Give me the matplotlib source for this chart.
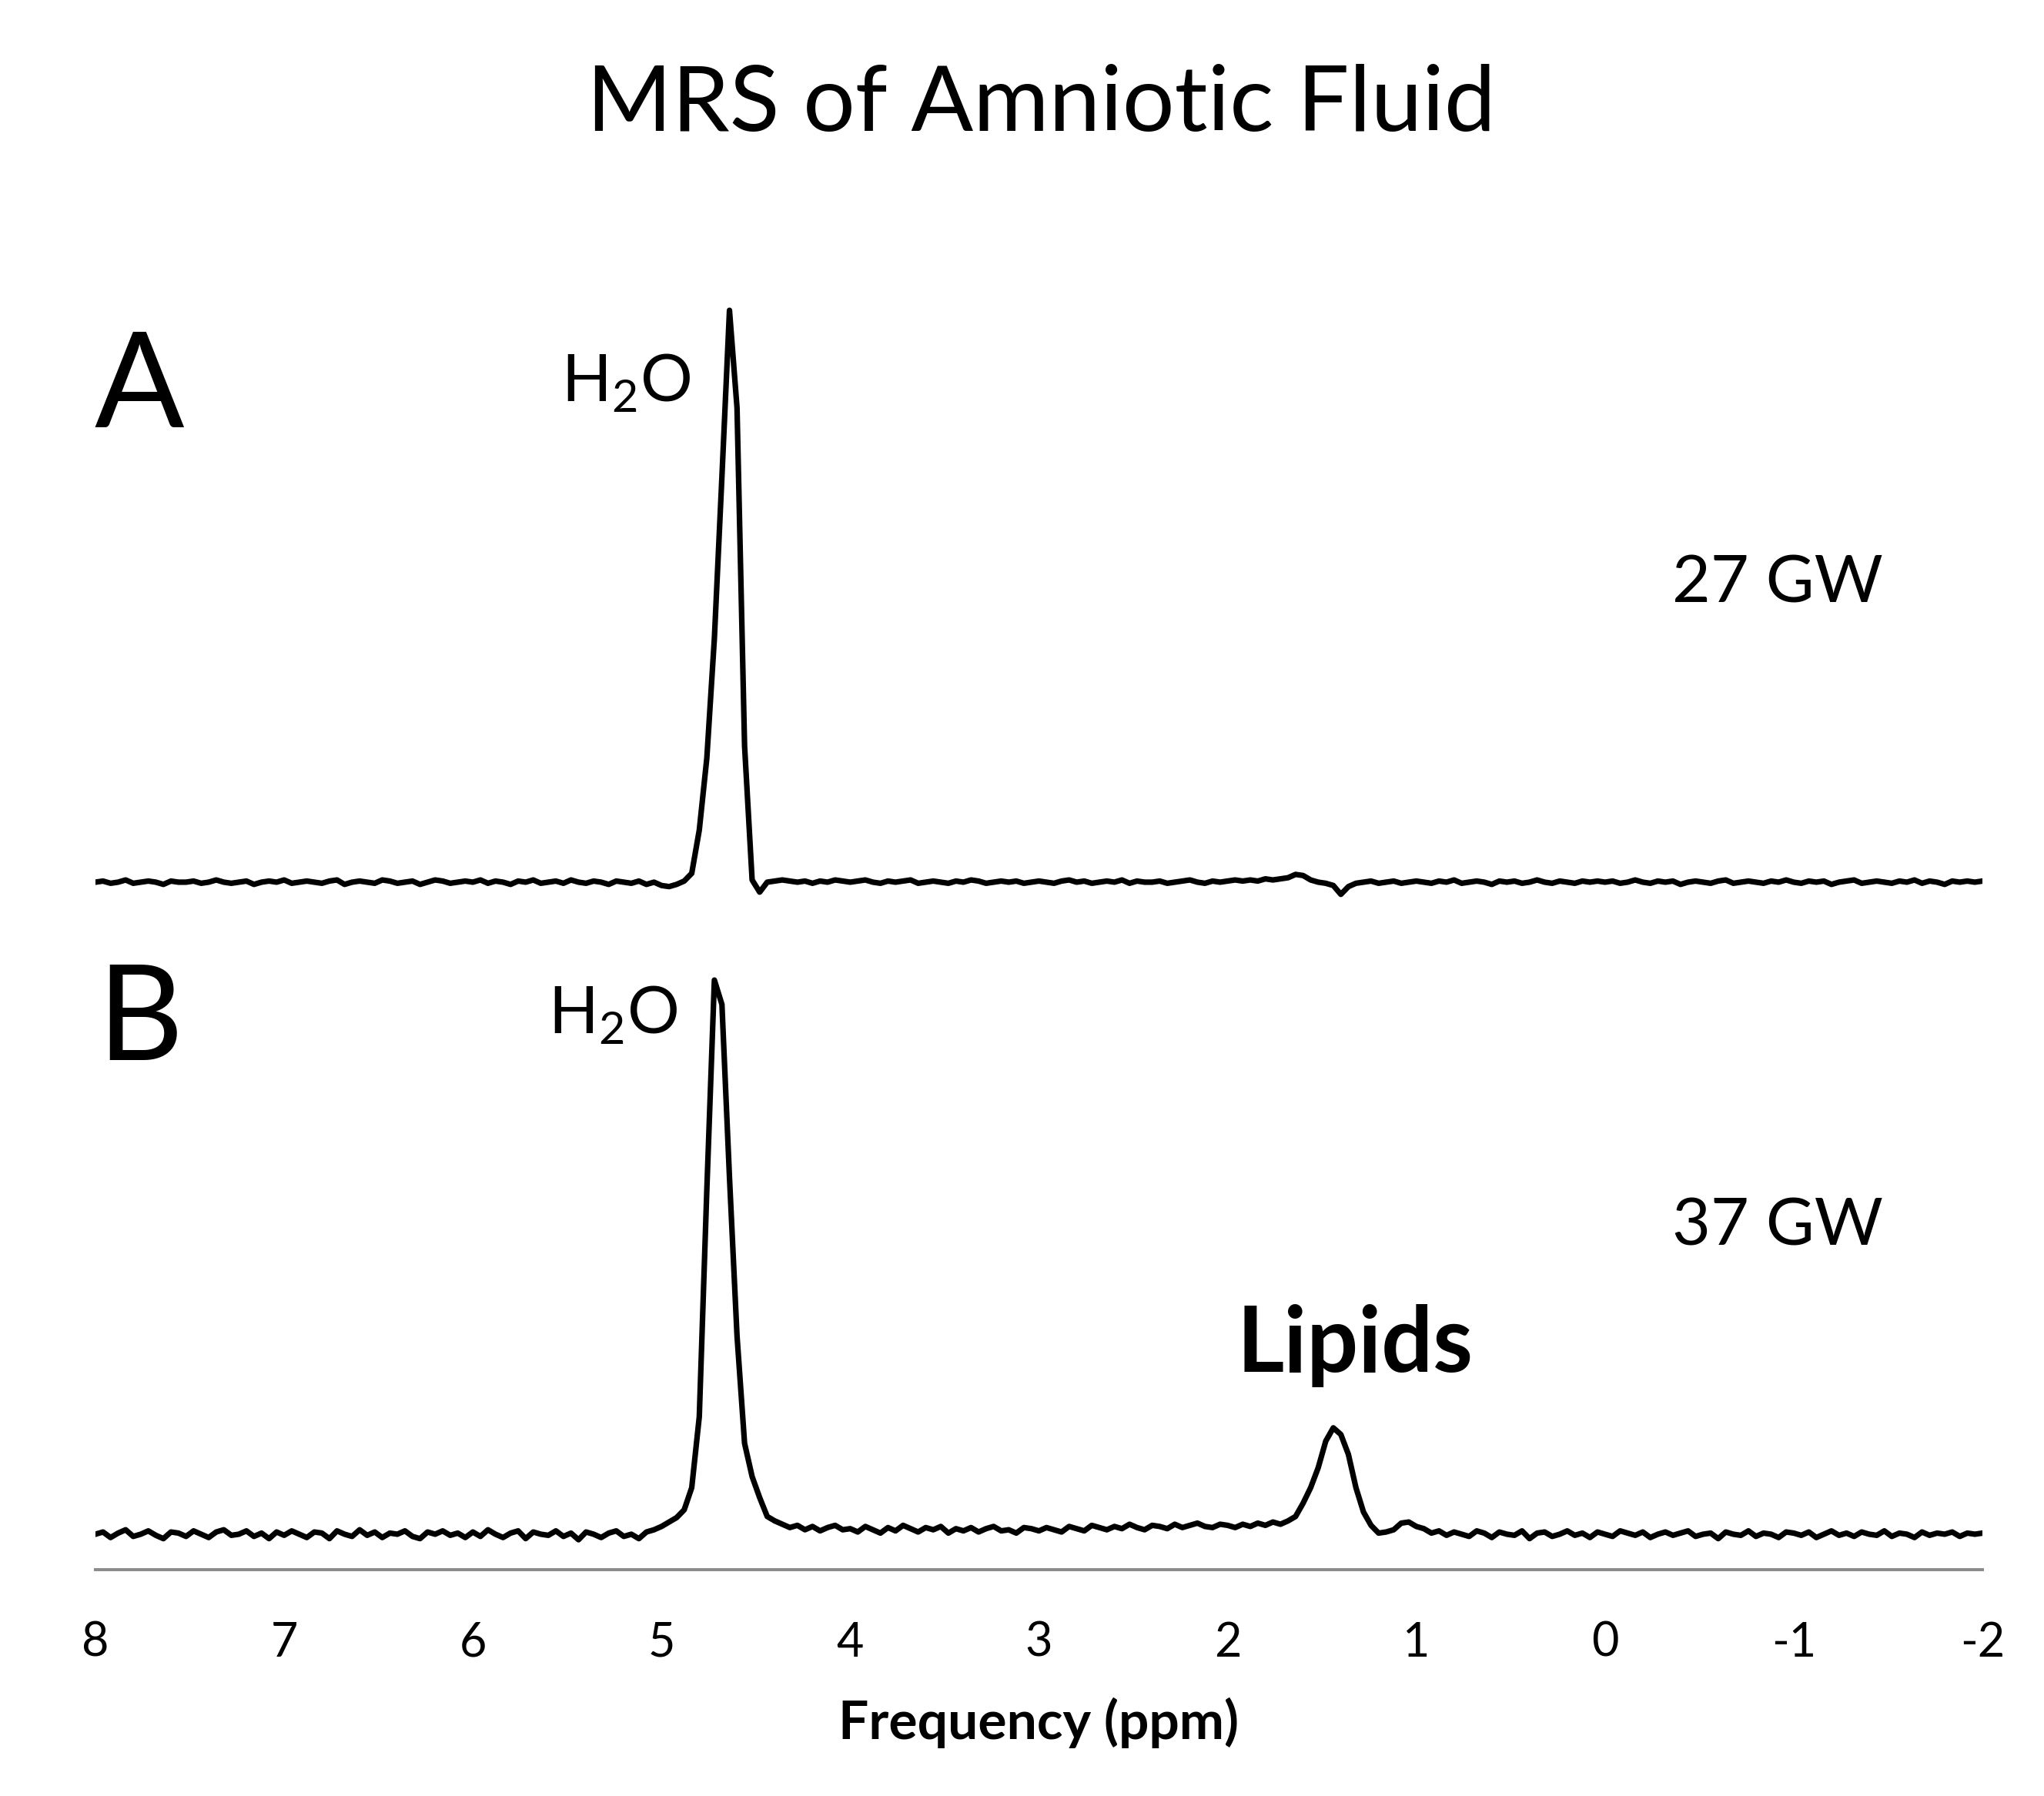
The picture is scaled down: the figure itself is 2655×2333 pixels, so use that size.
import numpy as np
import matplotlib
matplotlib.use("Agg")
import matplotlib.pyplot as plt

plt.rcParams["font.family"] = ["Lato", "DejaVu Sans"]
plt.rcParams["mathtext.fontset"] = "custom"
plt.rcParams["mathtext.rm"] = "Lato"
plt.rcParams["axes.unicode_minus"] = False

# ---------------------------------------------------------------------------
# data: spectra sampled every 0.04 ppm from 8 ppm down to -2 ppm (a.u.)
# ---------------------------------------------------------------------------
PPM_HIGH, PPM_LOW, N_POINTS = 8.0, -2.0, 251

# 27 gestational weeks
spec_27gw = [
    0, 1, -1, 0, 2, -1, 0, 1, 0, -2, 1, 0, 0, 1, -1, 0, 2, 0, -1, 0, 1, -2, 0, 1, 0,          # 8.00 .. 7.04
    2, -1, 0, 1, 0, -1, 1, 2, -2, 0, 1, 0, -1, 2, 1, -1, 0, 1, -2, 0, 2, 1, -1, 0, 1,         # 7.00 .. 6.04
    0, 2, -1, 1, 0, -2, 1, 0, 2, -1, 0, 1, -1, 2, 0, -1, 1, 0, -2, 1, 0, -1, 1, -2, 0,        # 6.00 .. 5.04
    -3, -4, -2, 1, 8, 47, 112, 220, 366, 516, 428, 123, 2, -9, 0, 1, 2, 1, 0, 1, -1, 1, 0, 2, 1,  # 5.00 .. 4.04
    0, 1, 2, 0, -1, 1, 0, 1, 2, -1, 0, 1, 0, -1, 1, 0, 2, 1, -1, 0, 1, 0, 1, -1, 0,           # 4.00 .. 3.04
    1, 0, -1, 1, 2, 0, 1, -1, 0, 1, 0, 2, -1, 1, 0, 0, 1, -1, 0, 1, 2, 0, -1, 1, 0,           # 3.00 .. 2.04
    1, 2, 1, 2, 1, 3, 2, 3, 4, 7, 6, 2, 0, -1, -3, -11, -4, -1, 0, 1, -1, 0, 1, -1, 0,        # 2.00 .. 1.04
    1, 0, -1, 1, 0, 2, -1, 0, 1, 0, -2, 1, 0, 1, -1, 0, 2, 0, -1, 1, 0, -1, 1, 0, 1,          # 1.00 .. 0.04
    0, 1, -1, 0, 2, 0, -1, 1, 0, 1, -2, 0, 1, 0, -1, 1, 2, -1, 0, 1, 0, -1, 1, 0, 2,          # 0.00 .. -0.96
    0, -1, 1, 0, 1, -2, 0, 1, 2, -1, 0, 1, 0, -1, 1, 0, 2, -1, 1, 0, -2, 1, 0, 1, 0,          # -1.00 .. -1.96
    1,                                                                                       # -2.00
]

# 37 gestational weeks
spec_37gw = [
    0, 2, -3, 1, 4, -2, 0, 3, -1, -4, 2, 1, -2, 3, 0, -3, 2, 4, -1, 0, 3, -2, 1, -4, 2,       # 8.00 .. 7.04
    -1, 3, 0, -3, 2, 1, -4, 3, 0, -2, 4, -1, 2, -3, 1, 0, 3, -2, -4, 2, 0, 3, -1, 1, -3,      # 7.00 .. 6.04
    2, -2, 4, 0, -3, 1, 3, -4, 2, 0, -1, 3, -2, 1, -5, 2, 0, -3, 1, 3, -2, 0, -4, 2, 4,       # 6.00 .. 5.04
    7, 11, 15, 22, 42, 106, 311, 500, 478, 322, 179, 82, 52, 33, 16, 12, 9, 6, 8, 4, 7, 3, 6, 8, 4,  # 5.00 .. 4.04
    5, 2, 7, 4, 1, 6, 3, 8, 5, 2, 6, 4, 7, 1, 5, 3, 6, 2, 5, 7, 3, 4, 1, 6, 5,               # 4.00 .. 3.04
    3, 6, 4, 2, 7, 5, 3, 8, 6, 4, 7, 5, 9, 6, 4, 8, 7, 5, 9, 6, 8, 10, 7, 6, 9,              # 3.00 .. 2.04
    8, 6, 9, 7, 10, 8, 11, 9, 12, 16, 28, 42, 60, 84, 96, 90, 72, 42, 20, 8, 1, 2, 4, 10, 11,  # 2.00 .. 1.04
    7, 5, 1, 3, -1, 2, 0, -2, 3, 1, -3, 2, 0, -1, 3, -4, 1, 2, -2, 0, 3, -1, 1, -3, 2,        # 1.00 .. 0.04
    0, -2, 3, 1, -1, 2, -3, 0, 2, -1, 1, 3, -2, 0, 1, -4, 2, 0, -1, 3, -2, 1, 0, -3, 2,       # 0.00 .. -0.96
    1, -1, 2, -3, 0, 3, -1, 1, -2, 2, 0, -1, 3, -2, 1, 0, -3, 2, -1, 1, 0, 2, -2, 1, 0,       # -1.00 .. -1.96
    1,                                                                                       # -2.00
]

tick_values = [8, 7, 6, 5, 4, 3, 2, 1, 0, -1, -2]
tick_labels = ["8", "7", "6", "5", "4", "3", "2", "1", "0", "-1", "-2"]

panel_letters = ["A", "B"]
panel_ages = ["27 GW", "37 GW"]

# ---------------------------------------------------------------------------
W, H = 2655, 2333
fig = plt.figure(figsize=(W / 100, H / 100), dpi=100)


def fx(px):
    return px / W


def fy(py):
    return 1 - py / H


ppm = np.linspace(PPM_HIGH, PPM_LOW, N_POINTS)
ax_left, ax_width, ax_height = fx(124), (2575 - 124) / W, 799 / H

ax_a = fig.add_axes([ax_left, fy(1192), ax_width, ax_height])
ax_b = fig.add_axes([ax_left, fy(2039), ax_width, ax_height])

for ax, spec in ((ax_a, spec_27gw), (ax_b, spec_37gw)):
    ax.plot(ppm, spec, color="black", lw=5.2, solid_joinstyle="round")
    ax.set_xlim(PPM_HIGH, PPM_LOW)
    ax.set_ylim(-32, 523)
    ax.set_yticks([])
    for s in ("top", "right", "left", "bottom"):
        ax.spines[s].set_visible(False)
    ax.set_xticks([])
    ax.patch.set_alpha(0)

ax_b.spines["bottom"].set_visible(True)
ax_b.spines["bottom"].set_color("#8c8c8c")
ax_b.spines["bottom"].set_linewidth(2.9)
ax_b.set_xticks(tick_values)
ax_b.set_xticklabels(tick_labels)
ax_b.tick_params(axis="x", length=0, pad=48, labelsize=44)
ax_b.set_xlabel("Frequency (ppm)", fontsize=50, fontweight="bold", labelpad=30)

# texts
fig.text(fx(1352), fy(170), "MRS of Amniotic Fluid", fontsize=86,
         ha="center", va="baseline")
fig.text(fx(122), fy(555), panel_letters[0], fontsize=124, ha="left", va="baseline")
fig.text(fx(126), fy(1377), panel_letters[1], fontsize=124, ha="left", va="baseline")
fig.text(fx(897), fy(522), r"H$_\mathrm{2}$O", fontsize=61, ha="right", va="baseline")
fig.text(fx(880), fy(1343), r"H$_\mathrm{2}$O", fontsize=61, ha="right", va="baseline")
fig.text(fx(2172), fy(782), panel_ages[0], fontsize=62, ha="left", va="baseline")
fig.text(fx(2172), fy(1617), panel_ages[1], fontsize=62, ha="left", va="baseline")
fig.text(fx(1606), fy(1782), "Lipids", fontsize=85, fontweight="bold",
         ha="left", va="baseline")

fig.savefig("out.png", dpi=100, facecolor="white")
